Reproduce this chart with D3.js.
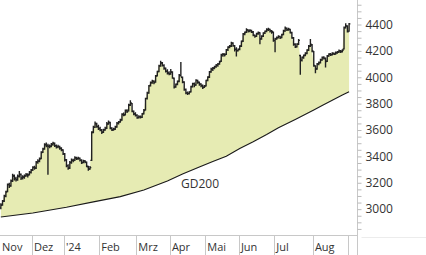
<!DOCTYPE html>
<html>
<head>
<meta charset="utf-8">
<script src="https://cdn.jsdelivr.net/npm/d3@7"></script>
<style>
    body { margin: 0; background: #fff; }
    svg { display: block; font-family: "Open Sans", sans-serif; }
</style>
</head>
<body>
<svg id="chart" width="426" height="255"></svg>
<script>
// month labels and number of trading days (bars) in each month
const monthLabels = ['Nov', 'Dez', "'24", 'Feb', 'Mrz', 'Apr', 'Mai', 'Jun', 'Jul', 'Aug', '']
const monthBars = [19, 19, 21, 22, 20, 21, 20, 21, 23, 21, 1]

const yTicks = [3000, 3200, 3400, 3600, 3800, 4000, 4200, 4400]
const yMinorTicks = [2850, 2900, 2950, 3050, 3100, 3150, 3250, 3300, 3350, 3450, 3500, 3550, 3650, 3700, 3750,
    3850, 3900, 3950, 4050, 4100, 4150, 4250, 4300, 4350, 4450, 4500, 4550]

// daily bars, one row per month
const opens = [
    3010, 3035, 3062, 3098, 3135, 3188, 3178, 3212, 3255, 3232, 3222, 3248, 3262, 3238, 3242, 3255, 3260, 3262, 3278,
    3300, 3318, 3312, 3358, 3365, 3385, 3432, 3458, 3490, 3480, 3476, 3478, 3492, 3498, 3480, 3472, 3474, 3460, 3448,
    3418, 3372, 3328, 3312, 3352, 3370, 3372, 3388, 3384, 3385, 3370, 3355, 3364, 3356, 3322, 3305, 3370, 3585, 3622, 3648, 3625,
    3612, 3598, 3585, 3602, 3615, 3648, 3655, 3612, 3602, 3608, 3625, 3650, 3662, 3678, 3720, 3716, 3748, 3745, 3790, 3800, 3740, 3724,
    3712, 3694, 3702, 3698, 3725, 3752, 3840, 3882, 3938, 3960, 3968, 3964, 4012, 4045, 4088, 4108, 4088, 4066, 4046, 4032,
    4028, 4038, 3990, 3928, 3948, 3970, 4012, 3998, 3962, 3908, 3880, 3876, 3890, 3930, 3952, 3942, 3975, 3960, 3948, 3936, 3925,
    3935, 3978, 4002, 4042, 4062, 4070, 4082, 4092, 4102, 4122, 4170, 4172, 4174, 4210, 4230, 4238, 4258, 4238, 4210, 4202,
    4212, 4238, 4275, 4330, 4342, 4358, 4352, 4356, 4342, 4318, 4312, 4332, 4338, 4292, 4312, 4336, 4350, 4360, 4362, 4350, 4342,
    4278, 4292, 4302, 4308, 4302, 4325, 4352, 4370, 4362, 4362, 4338, 4298, 4248, 4232, 4252, 4165, 4128, 4152, 4168, 4182, 4208, 4238, 4245,
    4195, 4085, 4065, 4102, 4112, 4132, 4150, 4142, 4122, 4162, 4176, 4172, 4182, 4176, 4186, 4192, 4198, 4196, 4215, 4378, 4388,
    4350
]
const highs = [
    3045, 3070, 3110, 3140, 3195, 3200, 3225, 3268, 3262, 3245, 3262, 3290, 3270, 3258, 3262, 3275, 3272, 3290, 3305,
    3325, 3330, 3365, 3378, 3392, 3440, 3465, 3500, 3505, 3495, 3490, 3502, 3512, 3505, 3490, 3488, 3480, 3470, 3455,
    3425, 3380, 3340, 3365, 3385, 3382, 3402, 3398, 3398, 3392, 3378, 3375, 3372, 3362, 3330, 3328, 3590, 3632, 3665, 3655, 3640,
    3625, 3608, 3610, 3625, 3660, 3672, 3662, 3622, 3618, 3632, 3660, 3668, 3685, 3728, 3732, 3755, 3758, 3800, 3825, 3805, 3748, 3735,
    3720, 3712, 3710, 3730, 3760, 3845, 3890, 3942, 3968, 3982, 3978, 4018, 4050, 4095, 4125, 4115, 4098, 4075, 4060, 4045,
    4062, 4045, 3998, 3952, 3975, 4025, 4115, 4005, 3970, 3915, 3892, 3895, 3935, 3958, 3960, 3985, 3982, 3968, 3955, 3945, 3942,
    3982, 4008, 4048, 4072, 4078, 4088, 4100, 4108, 4125, 4178, 4185, 4182, 4215, 4235, 4245, 4270, 4265, 4245, 4228, 4218,
    4242, 4278, 4335, 4348, 4372, 4365, 4365, 4360, 4350, 4325, 4338, 4348, 4342, 4318, 4342, 4355, 4372, 4375, 4368, 4358, 4348,
    4300, 4310, 4318, 4315, 4330, 4360, 4385, 4378, 4375, 4368, 4345, 4305, 4258, 4258, 4290, 4170, 4158, 4172, 4190, 4212, 4245, 4290, 4252,
    4200, 4092, 4108, 4120, 4140, 4158, 4160, 4150, 4168, 4182, 4185, 4190, 4188, 4195, 4200, 4210, 4206, 4212, 4385, 4410, 4395,
    4412
]
const lows = [
    3000, 3025, 3055, 3090, 3128, 3160, 3170, 3205, 3218, 3210, 3215, 3240, 3222, 3225, 3230, 3245, 3240, 3255, 3270,
    3290, 3298, 3305, 3345, 3355, 3378, 3425, 3450, 3470, 3260, 3462, 3470, 3480, 3472, 3460, 3462, 3450, 3440, 3410,
    3362, 3318, 3298, 3305, 3345, 3355, 3365, 3372, 3375, 3362, 3342, 3348, 3348, 3318, 3292, 3298, 3365, 3575, 3615, 3618, 3600,
    3590, 3570, 3578, 3595, 3608, 3640, 3605, 3592, 3595, 3600, 3618, 3642, 3655, 3670, 3705, 3710, 3730, 3740, 3782, 3735, 3712, 3702,
    3685, 3688, 3688, 3692, 3718, 3748, 3832, 3875, 3930, 3950, 3948, 3958, 4005, 4038, 4080, 4082, 4058, 4036, 4022, 4015,
    4020, 3988, 3915, 3920, 3940, 3962, 4005, 3955, 3898, 3872, 3865, 3870, 3885, 3922, 3925, 3936, 3950, 3935, 3925, 3912, 3918,
    3930, 3970, 3995, 4035, 4048, 4060, 4072, 4080, 4095, 4115, 4155, 4158, 4168, 4200, 4220, 4230, 4232, 4195, 4158, 4195,
    4205, 4230, 4268, 4318, 4335, 4340, 4342, 4335, 4312, 4300, 4305, 4322, 4250, 4285, 4305, 4328, 4342, 4350, 4340, 4330, 4270,
    4190, 4285, 4295, 4290, 4296, 4318, 4345, 4350, 4352, 4332, 4292, 4240, 4222, 4225, 4245, 4020, 4120, 4140, 4160, 4175, 4200, 4230, 4190,
    4080, 4030, 4058, 4092, 4105, 4125, 4135, 4075, 4115, 4155, 4162, 4165, 4168, 4170, 4178, 4185, 4185, 4188, 4210, 4370, 4340,
    4345
]
const closes = [
    3030, 3060, 3100, 3130, 3185, 3175, 3215, 3250, 3230, 3225, 3250, 3265, 3235, 3245, 3250, 3262, 3258, 3280, 3295,
    3315, 3310, 3355, 3362, 3380, 3430, 3455, 3488, 3482, 3478, 3475, 3490, 3500, 3482, 3470, 3476, 3462, 3450, 3420,
    3375, 3330, 3310, 3355, 3372, 3368, 3390, 3382, 3386, 3372, 3352, 3366, 3358, 3325, 3302, 3315, 3580, 3620, 3650, 3628, 3610,
    3600, 3582, 3600, 3612, 3645, 3660, 3615, 3600, 3605, 3622, 3652, 3660, 3672, 3718, 3714, 3745, 3740, 3788, 3808, 3742, 3722, 3710,
    3692, 3700, 3696, 3722, 3748, 3838, 3880, 3935, 3958, 3970, 3960, 4010, 4042, 4085, 4110, 4090, 4068, 4045, 4030, 4025,
    4040, 3995, 3925, 3945, 3968, 4015, 4000, 3965, 3905, 3882, 3878, 3888, 3928, 3950, 3940, 3978, 3962, 3950, 3938, 3922, 3932,
    3975, 4000, 4040, 4060, 4068, 4080, 4090, 4100, 4118, 4168, 4175, 4170, 4208, 4228, 4235, 4260, 4240, 4212, 4200, 4210,
    4235, 4270, 4328, 4340, 4360, 4350, 4355, 4345, 4320, 4310, 4330, 4340, 4290, 4310, 4335, 4348, 4362, 4365, 4352, 4345, 4280,
    4290, 4300, 4310, 4300, 4322, 4350, 4372, 4360, 4365, 4340, 4300, 4250, 4230, 4250, 4280, 4130, 4150, 4165, 4180, 4205, 4235, 4250, 4200,
    4090, 4060, 4100, 4110, 4130, 4150, 4145, 4120, 4160, 4175, 4170, 4180, 4175, 4185, 4190, 4200, 4195, 4205, 4375, 4390, 4345,
    4405
]

// 200 day line, read at some bars
const gdBars = [0, 19, 39, 55, 71, 85, 99, 108, 118, 126, 134, 142, 150, 158, 165, 175, 186, 191, 197, 203, 207]
const gdValues = [2940, 2971, 3015, 3055, 3095, 3145, 3213, 3266, 3319, 3361, 3402, 3460, 3511, 3566, 3617, 3680, 3752, 3786, 3826, 3865, 3891]

const width = 426, height = 255
const plotRight = 357.5, plotBottom = 235

const svg = d3.select('#chart')

const x = d3.scaleLinear().domain([0, 212.5]).range([0, plotRight])
const y = d3.scaleLinear().domain([2804, 4586]).range([plotBottom, 0])

svg.append('clipPath').attr('id', 'plot-clip')
    .append('rect').attr('width', plotRight).attr('height', plotBottom)

const plot = svg.append('g').attr('clip-path', 'url(#plot-clip)')

const bars = closes.map((c, i) => ({ i, o: opens[i], h: highs[i], l: lows[i], c }))
const closePts = bars.map(d => [x(d.i + 0.5), y(d.c)])
const gdPts = gdBars.map((b, k) => [x(b + 0.5), y(gdValues[k])])

const line = d3.line()

// fill between price and GD200
plot.append('path')
    .attr('d', line(closePts.concat(gdPts.slice().reverse())) + 'Z')
    .attr('fill', '#e6ebb3')

plot.append('path')
    .attr('d', line(gdPts))
    .attr('fill', 'none')
    .attr('stroke', '#1a1a1a')
    .attr('stroke-width', 1.1)

plot.append('g').selectAll('path').data(bars).enter()
    .append('path')
    .attr('d', d => {
        const cx = x(d.i + 0.5)
        return `M${cx},${y(d.h)}V${y(d.l)}M${cx - 1.3},${y(d.o)}H${cx}M${cx},${y(d.c)}H${cx + 1.3}`
    })
    .attr('fill', 'none')
    .attr('stroke', '#222')
    .attr('stroke-width', 1.4)

svg.append('text')
    .attr('x', 181)
    .attr('y', 188)
    .attr('font-size', '12px')
    .attr('fill', '#333')
    .text('GD200')

// axes lines
svg.append('line')
    .attr('x1', 0).attr('x2', plotRight)
    .attr('y1', plotBottom + 0.5).attr('y2', plotBottom + 0.5)
    .attr('stroke', '#c8c8c8')
svg.append('line')
    .attr('x1', plotRight + 4).attr('x2', width)
    .attr('y1', plotBottom + 2.5).attr('y2', plotBottom + 2.5)
    .attr('stroke', '#ececec')
svg.append('line')
    .attr('x1', plotRight).attr('x2', plotRight)
    .attr('y1', 0).attr('y2', height)
    .attr('stroke', '#c8c8c8')

// y axis
const yMinor = svg.append('g')
    .attr('transform', `translate(${plotRight},0)`)
    .call(d3.axisRight(y).tickValues(yMinorTicks).tickSize(4).tickFormat(''))
const yMajor = svg.append('g')
    .attr('transform', `translate(${plotRight},0)`)
    .call(d3.axisRight(y).tickValues(yTicks).tickSize(4).tickPadding(4).tickFormat(d3.format('d')))
yMinor.select('.domain').remove()
yMajor.select('.domain').remove()
svg.selectAll('.tick line').attr('stroke', '#bbb')
yMajor.selectAll('text')
    .attr('font-family', '"Open Sans", sans-serif')
    .attr('font-size', '12px')
    .attr('fill', '#333')

// month separators and labels
const monthStarts = Array.from(d3.cumsum([0].concat(monthBars))).slice(0, monthBars.length)
const months = monthStarts.map((s, k) => ({ s, label: monthLabels[k] }))

svg.append('g').selectAll('line').data(months.filter(d => d.s > 0)).enter()
    .append('line')
    .attr('x1', d => Math.round(x(d.s)) + 0.5)
    .attr('x2', d => Math.round(x(d.s)) + 0.5)
    .attr('y1', plotBottom)
    .attr('y2', height)
    .attr('stroke', '#c8c8c8')

svg.append('g').selectAll('text').data(months.filter(d => d.label)).enter()
    .append('text')
    .attr('x', d => x(d.s) + 2)
    .attr('y', 251)
    .attr('font-size', '11px')
    .attr('fill', '#333')
    .text(d => d.label)
</script>
</body>
</html>
